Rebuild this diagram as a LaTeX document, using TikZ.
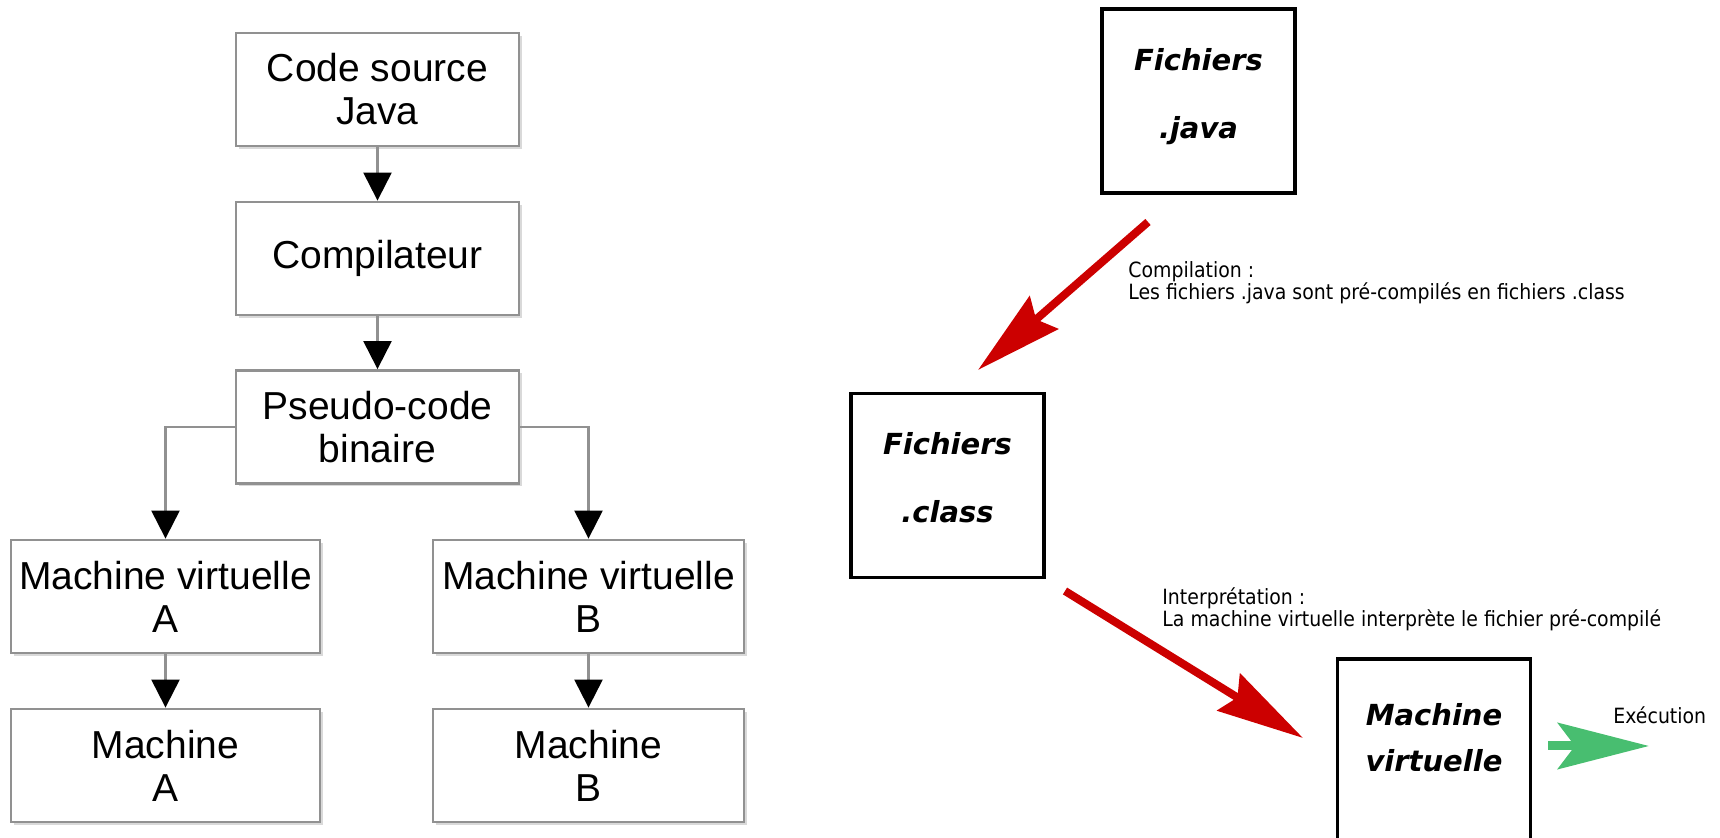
\documentclass[tikz,border=0pt]{standalone}
\usepackage{fontspec}
\setmainfont{Liberation Sans}
\newfontfamily\verafont{DejaVu Sans}
\newfontfamily\narrowfont[FakeStretch=0.9]{DejaVu Sans}
\usetikzlibrary{arrows.meta,shadows}

\definecolor{boxgray}{RGB}{145,145,145}
\definecolor{arrowred}{RGB}{204,0,0}
\definecolor{arrowgreen}{RGB}{72,190,112}

\begin{document}
\begin{tikzpicture}[x=0.5pt,y=-0.5pt]
\tikzstyle{stage}=[rectangle,draw=boxgray,line width=1.4pt,fill=white,align=center,inner sep=0pt,minimum height=56.5pt,font=\fontsize{19.5}{21.5}\selectfont,drop shadow={shadow xshift=1.5pt,shadow yshift=-1.5pt,fill=black!15,opacity=1}]
\tikzstyle{flow}=[draw=boxgray,line width=1.1pt,-{Triangle[length=14pt,width=14pt,color=black]}]
\tikzstyle{file}=[rectangle,draw=black,line width=1.6pt,align=center,inner sep=0pt,minimum width=96.5pt,minimum height=92pt,font=\verafont\bfseries\itshape\fontsize{14.5}{17.4}\selectfont]
\tikzstyle{phase}=[draw=arrowred,line width=4pt,-{Stealth[length=43.5pt,width=21.5pt,inset=5pt]}]
\tikzstyle{run}=[draw=arrowgreen,line width=4.5pt,-{Stealth[length=45.5pt,width=23pt,inset=8.5pt]}]
\tikzstyle{note}=[anchor=base west,align=left,inner sep=0pt,font=\narrowfont\fontsize{10.5}{11}\selectfont]

\useasboundingbox (0,0) rectangle (1720,838);

\node[stage,minimum width=141.5pt](src) at (377.5,89.5) {Code source\\Java};
\node[stage,minimum width=141.5pt](comp) at (377.5,258.5) {Compilateur};
\node[stage,minimum width=141.5pt](pseudo) at (377.5,427) {Pseudo-code\\binaire};
\node[stage,minimum width=154.5pt](vmA) at (165.5,596.5) {Machine virtuelle\\A};
\node[stage,minimum width=155.5pt](vmB) at (588.5,596.5) {Machine virtuelle\\B};
\node[stage,minimum width=154.5pt](machA) at (165.5,765.5) {Machine\\A};
\node[stage,minimum width=155.5pt](machB) at (588.5,765.5) {Machine\\B};

\draw[flow] (src) -- (comp);
\draw[flow] (comp) -- (pseudo);
\draw[flow] (pseudo.west) -| (vmA);
\draw[flow] (pseudo.east) -| (vmB);
\draw[flow] (vmA) -- (machA);
\draw[flow] (vmB) -- (machB);

\node[file](java) at (1198.5,101) {Fichiers\\[16.6pt].java\\[-9.4pt]\mbox{}};
\node[file](class) at (947.5,485.5) {Fichiers\\[16.6pt].class\\[-9.4pt]\mbox{}};
\node[file](jvm) at (1434,751) {Machine\\[5.6pt]virtuelle\\[-3.4pt]\mbox{}};

\coordinate (compfrom) at (1148,222);
\coordinate (compto) at (978,370);
\coordinate (interpfrom) at (1065,591);
\coordinate (interpto) at (1303,738);
\coordinate (execfrom) at (1548,746);
\coordinate (execto) at (1649,746);

\draw[phase] (compfrom) -- (compto);
\draw[phase] (interpfrom) -- (interpto);
\draw[run] (execfrom) -- (execto);

\node[note](compnote) at (1128,300) {Compilation :\\Les fichiers .java sont pré-compilés en fichiers .class};
\node[note](interpnote) at (1162,627) {Interprétation :\\La machine virtuelle interprète le fichier pré-compilé};
\node[note](execnote) at (1613,724) {Exécution};
\end{tikzpicture}
\end{document}
